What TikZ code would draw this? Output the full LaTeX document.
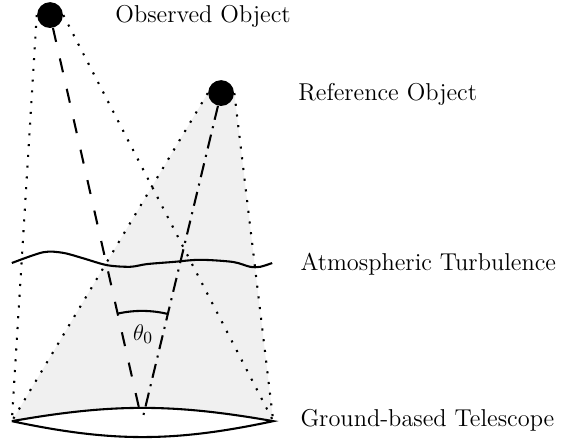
\documentclass[tikz,border=0pt]{standalone}
\usetikzlibrary{positioning,backgrounds}
\tikzset{
  obj/.style={circle,fill=black,inner sep=0pt,minimum size=0.48cm},
  ray/.style={line width=1.1pt,dash pattern=on 1.1pt off 4.6pt},
  sightobs/.style={line width=1.1pt,dash pattern=on 7.5pt off 9pt},
  sightref/.style={line width=1.1pt,dash pattern=on 7.5pt off 3.5pt on 1.1pt off 3.5pt},
  solid line/.style={line width=1.1pt},
  lab/.style={anchor=base west,inner sep=0pt}
}
\begin{document}
\begin{tikzpicture}[every node/.style={font=\fontsize{12.9}{15}\selectfont}]
  \useasboundingbox (0,0) rectangle (10.43,8.22);
  \node[obj] (obs) at (0.93,7.94) {};
  \node[obj] (ref) at (4.11,6.49) {};
  \coordinate (lensL) at (0.22,0.39); \coordinate (lensR) at (5.08,0.39);
  \coordinate (foc) at (2.64,0.39);
  % light cone of the reference object
  \begin{scope}[on background layer]
    \fill[black!6] (ref.west) -- (lensL) to[bend left=10] (lensR) -- (ref.east) -- cycle;
  \end{scope}
  \draw[ray] (obs.west) -- (lensL); \draw[ray] (obs.east) -- (lensR);
  \draw[ray] (ref.west) -- (lensL); \draw[ray] (ref.east) -- (lensR);
  \draw[sightobs] (obs) -- (foc); \draw[sightref] (ref) -- (foc);
  % turbulence layer
  \draw[solid line] plot[smooth] coordinates {(0.22,3.33) (0.80,3.53) (1.17,3.52) (1.54,3.42) (1.99,3.29) (2.42,3.26) (2.73,3.31) (3.22,3.35) (3.72,3.39) (4.33,3.35) (4.65,3.26) (4.84,3.26) (5.06,3.33)};
  % telescope lens
  \draw[solid line] (lensL) to[bend left=10] (lensR) to[bend left=12] (lensL);
  \draw[solid line] ([shift=(76.5:2.05)]foc) arc[start angle=76.5,end angle=102.5,radius=2.05];
  \node (theta) at (2.66,2.01) {$\theta_0$};
  \node[lab] (obslab) at (2.14,7.81) {Observed Object};
  \node[lab] (reflab) at (5.54,6.36) {Reference Object};
  \node[lab] (turblab) at (5.58,3.20) {Atmospheric Turbulence};
  \node[lab] (tellab) at (5.58,0.30) {Ground-based Telescope};
\end{tikzpicture}
\end{document}
